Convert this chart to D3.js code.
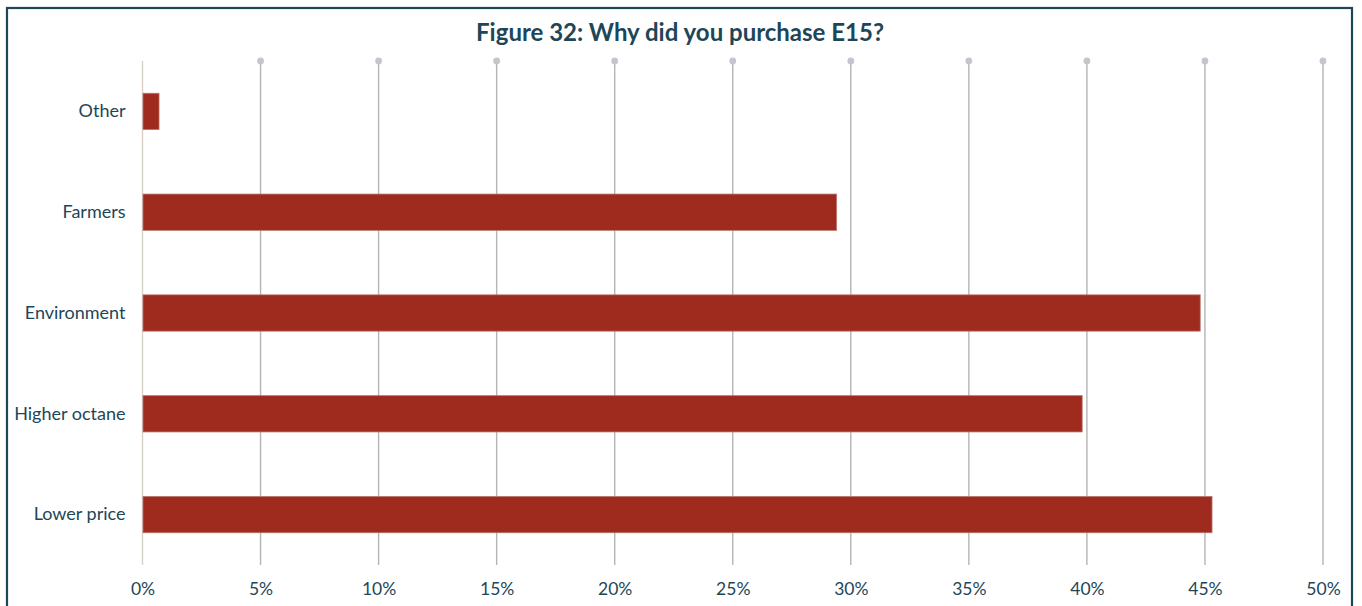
<!DOCTYPE html>
<html>
<head>
<meta charset="utf-8">
<script src="https://cdn.jsdelivr.net/npm/d3@7/dist/d3.min.js"></script>
<style>
  html, body { margin: 0; padding: 0; background: #fff; }
  svg { display: block; }
</style>
</head>
<body>
<svg id="chart" width="1362" height="606"></svg>
<script>
// Survey responses: reasons for buying E15 (share of respondents)
const categories = ["Other", "Farmers", "Environment", "Higher octane", "Lower price"];
const shares = [0.7, 29.4, 44.8, 39.8, 45.3];
const tickValues = [0, 5, 10, 15, 20, 25, 30, 35, 40, 45, 50];
const titleText = "Figure 32: Why did you purchase E15?";

const W = 1362, H = 606;
const margin = { top: 61, right: 39, bottom: 41, left: 142.5 };
const ink = "#1d4658";
const font = "Lato, 'Source Sans Pro', 'Noto Sans', sans-serif";

const svg = d3.select("#chart");

// Outer frame
svg.append("rect")
  .attr("x", 7).attr("y", 8)
  .attr("width", 1345).attr("height", 610)
  .attr("fill", "none")
  .attr("stroke", ink)
  .attr("stroke-width", 2.2);

const x = d3.scaleLinear().domain([0, 50]).range([margin.left, W - margin.right]);
const y = d3.scaleBand().domain(categories)
  .range([margin.top, H - margin.bottom])
  .paddingInner(0.64).paddingOuter(0.32);

// Vertical gridlines with round caps on top
const grid = svg.append("g");
grid.selectAll("line").data(tickValues).join("line")
  .attr("x1", d => x(d)).attr("x2", d => x(d))
  .attr("y1", margin.top).attr("y2", H - margin.bottom)
  .attr("stroke", d => d === 0 ? "#d6d2ca" : "#b4b4b4")
  .attr("stroke-width", 1.4);
grid.selectAll("circle").data(tickValues.filter(d => d > 0)).join("circle")
  .attr("cx", d => x(d)).attr("cy", margin.top)
  .attr("r", 3.4).attr("fill", "#c3c6cc");

// Bars
svg.append("g").selectAll("rect").data(categories).join("rect")
  .attr("x", x(0) + 0.5)
  .attr("y", d => y(d))
  .attr("width", (d, i) => x(shares[i]) - x(0) - 0.5)
  .attr("height", y.bandwidth())
  .attr("fill", "#9e2b1e")
  .attr("stroke", "#b9766d")
  .attr("stroke-width", 0.8);

// Category axis labels
const yAxis = d3.axisLeft(y).tickSize(0).tickPadding(17);
svg.append("g")
  .attr("transform", `translate(${margin.left},0)`)
  .call(yAxis)
  .call(g => g.select(".domain").remove())
  .call(g => g.selectAll("text")
    .attr("fill", ink)
    .attr("font-family", font)
    .attr("font-size", 18));

// Percentage axis labels
const xAxis = d3.axisBottom(x).tickValues(tickValues).tickFormat(d => d + "%").tickSize(0).tickPadding(18);
svg.append("g")
  .attr("transform", `translate(0,${H - margin.bottom})`)
  .call(xAxis)
  .call(g => g.select(".domain").remove())
  .call(g => g.selectAll("text")
    .attr("fill", ink)
    .attr("font-family", font)
    .attr("font-size", 17.5));

// Title
svg.append("text")
  .attr("x", 680).attr("y", 41)
  .attr("text-anchor", "middle")
  .attr("fill", ink)
  .attr("font-family", font)
  .attr("font-weight", "bold")
  .attr("font-size", 24)
  .text(titleText);
</script>
</body>
</html>
